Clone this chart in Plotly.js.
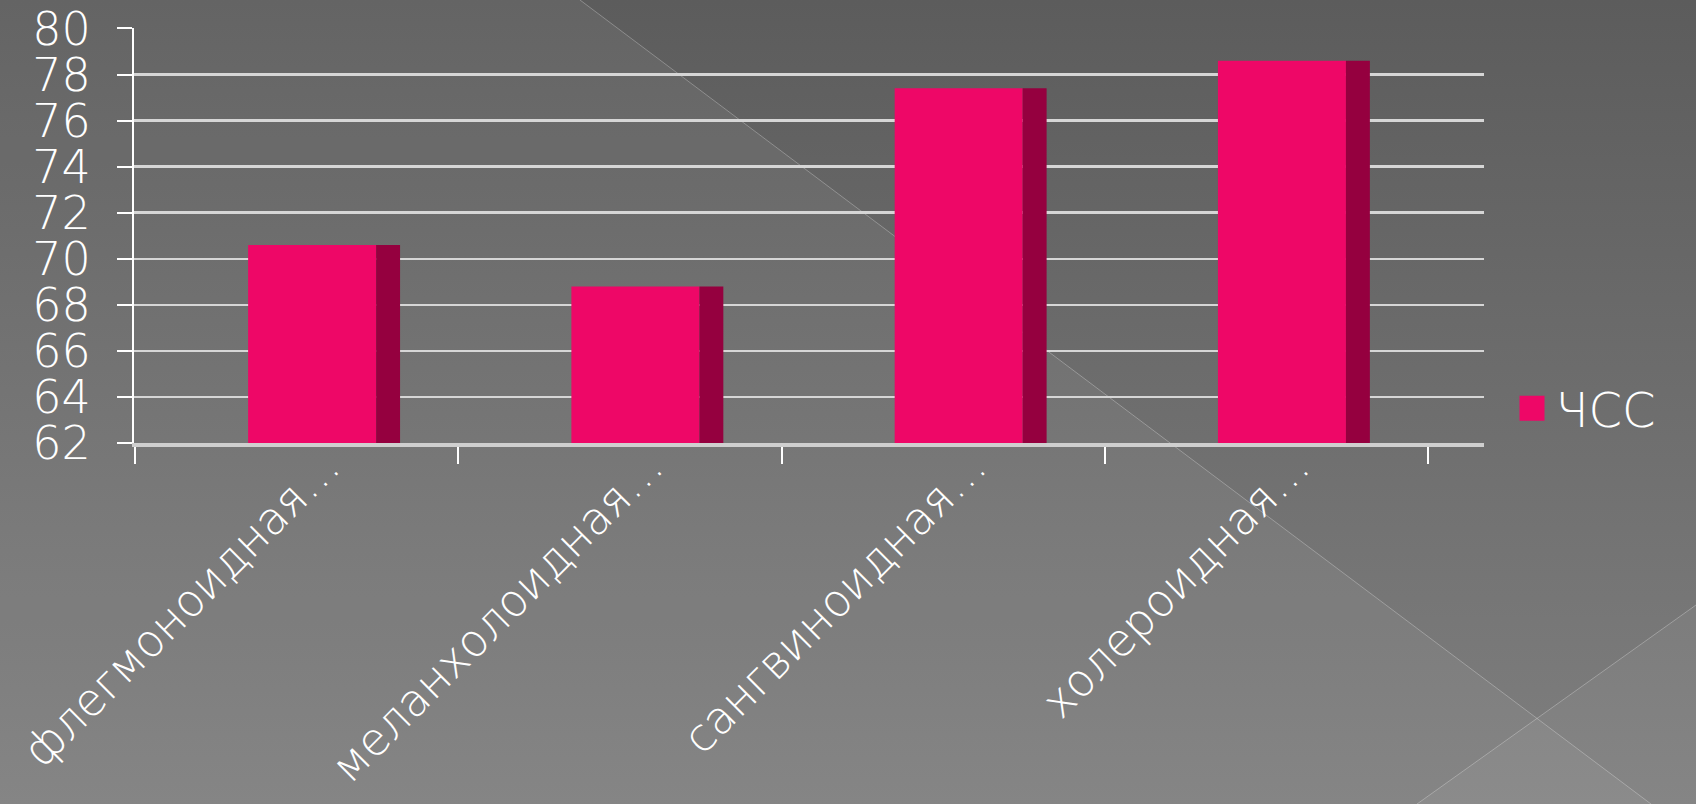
<!DOCTYPE html>
<html><head><meta charset="utf-8">
<script src="https://cdn.plot.ly/plotly-3.0.1.min.js"></script>
<style>
html,body{margin:0;padding:0;width:1696px;height:804px;overflow:hidden;}
body{background:linear-gradient(to bottom,#5c5c5c 0%,#7f7f7f 100%);}
#bg{position:absolute;left:0;top:0;}
#chart{position:absolute;left:0;top:0;width:1696px;height:804px;}
</style></head><body>
<svg id="bg" width="1696" height="804">
 <polygon points="0,0 580,0 1651,804 0,804" fill="rgba(255,255,255,0.05)"/>
 <polygon points="1417,804 1696,605 1696,804" fill="rgba(255,255,255,0.05)"/>
 <line x1="580" y1="0" x2="1651" y2="804" stroke="rgba(255,255,255,0.28)" stroke-width="1"/>
 <line x1="1417" y1="804" x2="1696" y2="605" stroke="rgba(255,255,255,0.28)" stroke-width="1"/>
</svg>
<div id="chart"></div>
<script>
const categories = ["флегмоноидная…", "меланхолоидная…", "сангвиноидная…", "холероидная…"];
const seriesName = "ЧСС";
const values = [70.6, 68.8, 77.4, 78.6];
const yTicks = [62, 64, 66, 68, 70, 72, 74, 76, 78, 80];

const FONT = "DejaVu Sans, sans-serif";
const W = 200;

const front = {
  type: "bar", x: categories, y: values, name: seriesName,
  width: 0.396, offset: -0.150,
  marker: {color: "#EE0767", line: {width: 0}},
  showlegend: true, hoverinfo: "x+y"
};
const side = {
  type: "bar", x: categories, y: values, name: seriesName,
  width: 0.074, offset: 0.246,
  marker: {color: "#95003F", line: {width: 0}},
  showlegend: false, hoverinfo: "skip"
};

const layout = {
  width: 1696, height: 804, autosize: false,
  margin: {l: 134, r: 212, t: 27.5, b: 361, pad: 0},
  paper_bgcolor: "rgba(0,0,0,0)", plot_bgcolor: "rgba(0,0,0,0)",
  barmode: "overlay",
  font: {family: FONT, color: "#ffffff", size: 46, weight: W},
  xaxis: {
    type: "category", range: [-0.503, 3.673],
    tickson: "boundaries", ticks: "outside", ticklen: 17, tickwidth: 2, tickcolor: "#ffffff",
    showline: true, linecolor: "#cfcfcf", linewidth: 4,
    showgrid: false, zeroline: false,
    tickangle: -45, ticklabelshift: 30, ticklabelstandoff: -25,
    tickfont: {family: FONT, size: 45, color: "#ffffff", weight: W}
  },
  yaxis: {
    range: [62, 80.02], tickvals: yTicks, ticktext: yTicks.map(String),
    showgrid: true, gridcolor: "#d6d6d6", gridwidth: 2.5,
    ticks: "outside", ticklen: 15, tickwidth: 2, tickcolor: "#ffffff",
    showline: true, linecolor: "#ffffff", linewidth: 2, zeroline: false,
    ticklabelstandoff: 17,
    tickfont: {family: FONT, size: 46, color: "#ffffff", weight: W}
  },
  legend: {
    x: 1.0234, y: 0.083, xanchor: "left", yanchor: "middle",
    bgcolor: "rgba(0,0,0,0)", borderwidth: 0,
    font: {family: FONT, size: 48, color: "#ffffff", weight: W}
  }
};

Plotly.newPlot("chart", [front, side], layout, {displayModeBar: false, staticPlot: true}).then(function () {
  document.querySelectorAll(".legendpoints path").forEach(function (p) {
    p.setAttribute("d", "M12.5,12.5H-12.5V-12.5H12.5Z");
    p.setAttribute("transform", "translate(16.4,0)");
  });
});
</script>
</body></html>
